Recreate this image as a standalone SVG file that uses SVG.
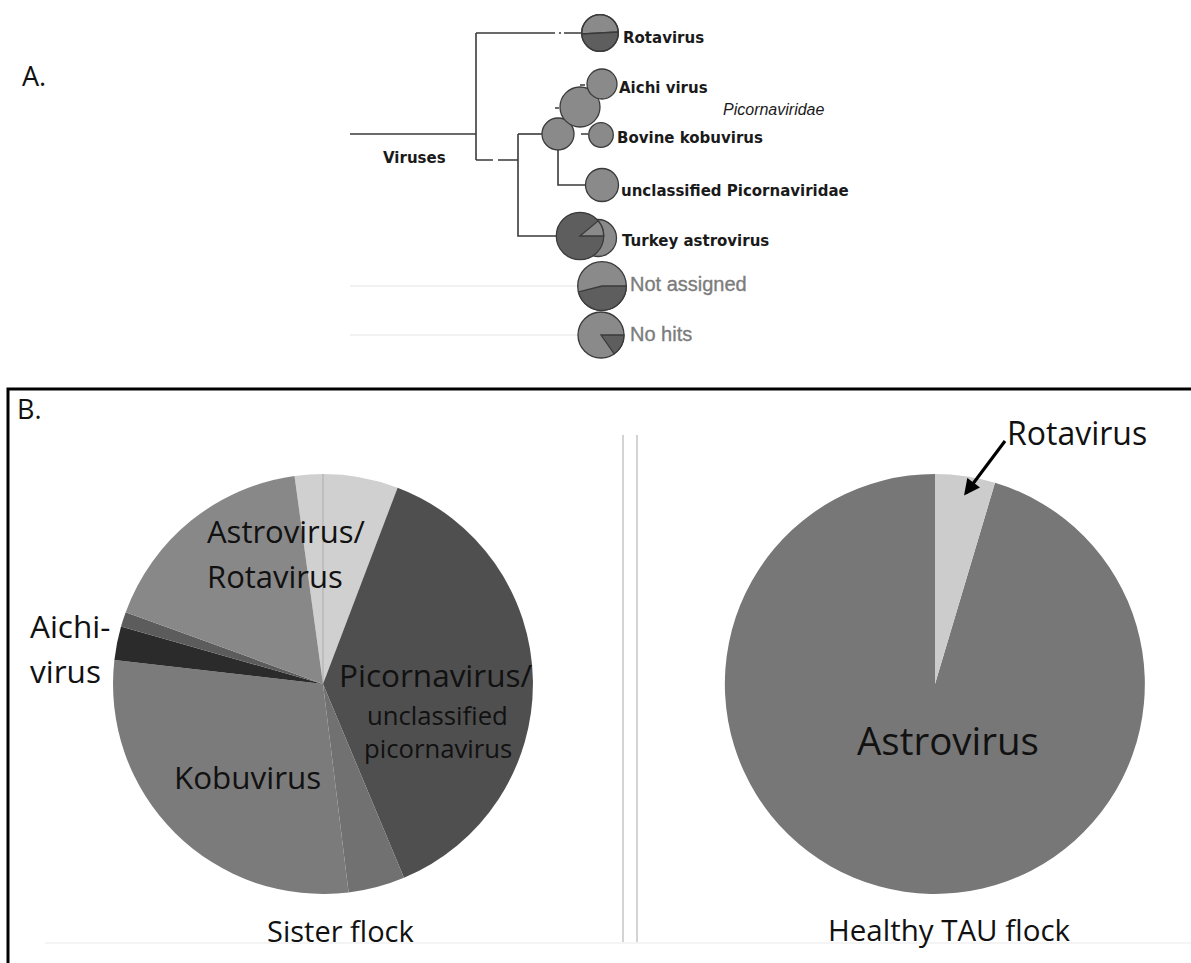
<svg xmlns="http://www.w3.org/2000/svg" width="1191" height="963" viewBox="0 0 1191 963">
<style>
.tl{fill:none;stroke:#3a3a3a;stroke-width:1.6}
.nd{stroke:#3a3a3a;stroke-width:1.3}
.lt{fill:#8a8a8a}
.dk{fill:#5e5e5e}
.tx{font-family:"DejaVu Sans",sans-serif;font-weight:bold;font-size:15px;fill:#1a1a1a}
.gx{font-family:"Liberation Sans",Arial,sans-serif;font-size:20px;fill:#7c7c7c;stroke:#7c7c7c;stroke-width:0.35}
.pl{font-family:"Open Sans",sans-serif;fill:#111}
.faint{stroke:#ececec;stroke-width:1.5}
</style>
<defs>
<marker id="ah" viewBox="0 0 10 10" refX="8" refY="5" markerWidth="5.5" markerHeight="5" orient="auto" markerUnits="strokeWidth">
<path d="M0,0 L10,5 L0,10 Z" fill="#000"/>
</marker>
</defs>
<rect width="1191" height="963" fill="#fff"/>

<!-- Panel A -->
<text x="22" y="86" class="pl" font-size="27">A.</text>
<line class="faint" x1="350" y1="286" x2="578" y2="286"/>
<line class="faint" x1="350" y1="335" x2="578" y2="335"/>

<g id="node-viruses">
<text x="383" y="163" class="tx">Viruses</text>
</g>

<g id="node-rotavirus">
<path class="nd lt" d="M581.7,34 A18.3,18.3 0 0 1 618.3,32 Z"/>
<path class="nd dk" d="M581.7,34 L618.3,32 A18.3,18.3 0 0 1 581.7,34 Z"/>
<circle cx="600" cy="33" r="18.3" fill="none" class="nd"/>
<text x="623" y="42.5" class="tx">Rotavirus</text>
</g>

<g id="node-picornaviridae">
<circle cx="558" cy="134" r="16" class="nd lt"/>
<text x="723" y="115" font-family="Liberation Sans, Arial, sans-serif" font-style="italic" font-size="16" fill="#1a1a1a">Picornaviridae</text>
</g>

<g id="node-kobuvirus">
<circle cx="580" cy="107" r="20" class="nd lt"/>
</g>

<g id="node-aichi">
<circle cx="602" cy="84" r="15" class="nd lt"/>
<text x="619" y="93" class="tx">Aichi virus</text>
</g>

<g id="node-bovine">
<circle cx="601" cy="135" r="12.3" class="nd lt"/>
<text x="617" y="142.5" class="tx">Bovine kobuvirus</text>
</g>

<g id="node-unclassified">
<circle cx="602" cy="185" r="16.5" class="nd lt"/>
<text x="621" y="196" class="tx">unclassified Picornaviridae</text>
</g>

<g id="node-turkey">
<circle cx="598" cy="238" r="18.5" class="nd lt"/>
<circle cx="580" cy="236" r="23.7" class="nd dk"/>
<path class="nd lt" d="M580,236 L598.2,220.8 A23.7,23.7 0 0 1 603.7,236 Z"/>
<text x="622" y="245.5" class="tx">Turkey astrovirus</text>
</g>

<g id="node-not-assigned">
<circle cx="602" cy="286" r="24.3" class="nd lt"/>
<path class="nd dk" d="M602,286 L626.3,286 A24.3,24.3 0 0 1 578.4,291.9 Z"/>
<text x="630" y="291" class="gx">Not assigned</text>
</g>

<g id="node-no-hits">
<circle cx="601" cy="335" r="23" class="nd lt"/>
<path class="nd dk" d="M601,335 L624,335 A23,23 0 0 1 614.2,353.8 Z"/>
<text x="630" y="341" class="gx">No hits</text>
</g>

<!-- Panel B -->
<path d="M8,963 V389 H1191" fill="none" stroke="#000" stroke-width="3"/>
<text x="17" y="419" class="pl" font-size="27">B.</text>
<line x1="623" y1="435" x2="623" y2="942" stroke="#c9c9c9" stroke-width="1.6"/>
<line x1="637" y1="435" x2="637" y2="942" stroke="#c9c9c9" stroke-width="1.6"/>
<line x1="45" y1="943" x2="1191" y2="943" stroke="#f1f1f1" stroke-width="1.5"/>

<g id="pie-sister">
<path d="M323,684 L294.5,476 A210,210 0 0 1 397.6,487.7 Z" fill="#d0d0d0"/>
<line x1="323" y1="684" x2="323" y2="474" stroke="#b3b3b3" stroke-width="1.2"/>
<path d="M323,684 L397.6,487.7 A210,210 0 0 1 404,877.7 Z" fill="#4f4f4f"/>
<path d="M323,684 L404,877.7 A210,210 0 0 1 348.6,892.4 Z" fill="#717171"/>
<path d="M323,684 L348.6,892.4 A210,210 0 0 1 114.4,659.9 Z" fill="#7b7b7b"/>
<path d="M323,684 L114.4,659.9 A210,210 0 0 1 121,626.5 Z" fill="#2b2b2b"/>
<path d="M323,684 L121,626.5 A210,210 0 0 1 125.7,612.2 Z" fill="#5c5c5c"/>
<path d="M323,684 L125.7,612.2 A210,210 0 0 1 294.5,476 Z" fill="#888888"/>
<text class="pl" font-size="31" x="207" y="543">Astrovirus/</text>
<text class="pl" font-size="31" x="207" y="588">Rotavirus</text>
<text class="pl" font-size="31.5" x="30" y="638">Aichi-</text>
<text class="pl" font-size="31.5" x="30" y="683">virus</text>
<text class="pl" font-size="31.5" x="339" y="687">Picornavirus/</text>
<text class="pl" font-size="25.7" x="367" y="725">unclassified</text>
<text class="pl" font-size="25.7" x="364" y="758">picornavirus</text>
<text class="pl" font-size="31.4" x="174" y="789">Kobuvirus</text>
<text class="pl" font-size="29" x="267" y="942">Sister flock</text>
</g>

<g id="pie-healthy">
<path d="M935,684 L995,482.8 A210,210 0 1 1 935,474 Z" fill="#777777"/>
<path d="M935,684 L935,474 A210,210 0 0 1 995,482.8 Z" fill="#cccccc"/>
<text class="pl" font-size="38.5" x="857" y="755">Astrovirus</text>
<text class="pl" font-size="32" x="1007" y="445">Rotavirus</text>
<text class="pl" font-size="29.5" x="828" y="941">Healthy TAU flock</text>
</g>

<g id="connectors">
<path class="tl" d="M350,134 H476"/>
<path class="tl" d="M476,33 V160"/>
<path class="tl" d="M476,33 H555 M559,33 H561 M564,33 H582"/>
<path class="tl" d="M476,160 H493 M498,160 H518"/>
<path class="tl" d="M518,134 V236 H556"/>
<path class="tl" d="M518,134 H542"/>
<path class="tl" d="M558,150 V185 H585"/>
<path class="tl" d="M555,108 H559 M580,85 H585 M581,134 H588"/>
<line x1="1005" y1="441" x2="966" y2="493" stroke="#000" stroke-width="3.2" marker-end="url(#ah)"/>
</g>
</svg>
